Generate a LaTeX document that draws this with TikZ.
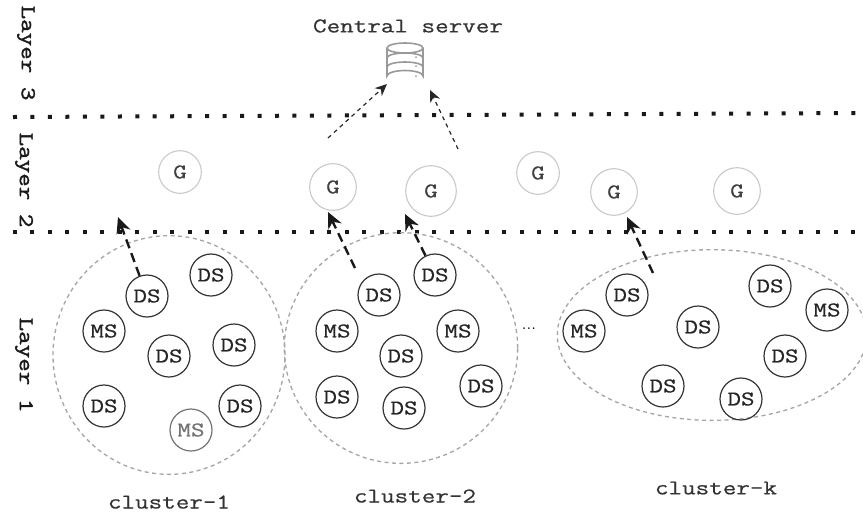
\documentclass[tikz,border=0pt]{standalone}
\usepackage{fontspec}
\setmonofont[FakeStretch=1.25,FakeBold=0.5]{Latin Modern Mono}
\newfontfamily\laybold[FakeStretch=1.25,FakeBold=1.6]{Latin Modern Mono}
\usepackage{tikz}
\usetikzlibrary{arrows,arrows.meta,positioning,shapes.geometric}
\tikzset{
  lbl/.style={font=\fontsize{15.8}{16}\selectfont\ttfamily,text=black!80,inner sep=0pt},
  lay/.style={font=\fontsize{15.8}{16}\selectfont\laybold,text=black!90,inner sep=0pt,rotate=-90},
  sv/.style={circle,draw=black!80,line width=0.9pt,minimum size=31.5pt,inner sep=0pt,
    font=\fontsize{15.8}{16}\selectfont\ttfamily,text=black!85},
  gw/.style={circle,draw=black!22,line width=0.8pt,inner sep=0pt,
    font=\fontsize{15.8}{16}\selectfont\ttfamily,text=black!75},
  cl/.style={ellipse,draw=black!35,dash pattern=on 3pt off 2.6pt,line width=1pt,inner sep=0pt},
  sep/.style={line width=3pt,black!90,dash pattern=on 3pt off 10.1pt},
  up/.style={-{Stealth[length=12pt,width=11pt]},dash pattern=on 7pt off 4pt,line width=1.8pt,black!90},
  upthin/.style={-{Stealth[length=9pt,width=8pt]},dashed,line width=0.9pt,black!85},
  dbline/.style={black!40,line width=1.2pt},
}
\begin{document}
\begin{tikzpicture}[x=0.75pt,y=-0.75pt]
        \useasboundingbox (0,0) rectangle (863,512);
        \node (CS) at (408,26) [lbl] {Central server};
        \node (L3) at (26,53) [lay] {Layer 3};
        \node (L2) at (24,180) [lay] {Layer 2};
        \node (L1) at (24,365) [lay] {Layer 1};
        \coordinate (T0) at (13,117);
        \coordinate (T1) at (856,113);
        \coordinate (M0) at (13,232);
        \coordinate (M1) at (856,232);
        \draw [sep] (T0) -- (T1);
        \draw [sep] (M0) -- (M1);

        % clusters
        \node (C1) at (169,355) [cl,minimum width=174pt,minimum height=179pt] {};
        \node (C2) at (401,348) [cl,minimum width=175pt,minimum height=173pt] {};
        \node (Ck) at (712,335) [cl,minimum width=232pt,minimum height=128pt] {};
        \node (N1) at (169,502) [lbl] {cluster-1};
        \node (N2) at (415,496) [lbl] {cluster-2};
        \node (Nk) at (716,488) [lbl] {cluster-k};
        \node (D) at (529,329) [font=\fontsize{13}{13}\selectfont] {...};

        % gateways
        \node (G1) at (180,172) [gw,minimum size=32pt] {G};
        \node (G2) at (333,187) [gw,minimum size=35pt] {G};
        \node (G3) at (431,191) [gw,minimum size=38pt] {G};
        \node (G4) at (538,173) [gw,minimum size=32pt] {G};
        \node (G5) at (614,192) [gw,minimum size=35pt] {G};
        \node (G6) at (737,191) [gw,minimum size=35pt] {G};

        % first cluster
        \node (A1) at (147,296) [sv] {DS};
        \node (A2) at (211,275) [sv] {DS};
        \node (A3) at (104,331) [sv] {MS};
        \node (A4) at (169,356) [sv] {DS};
        \node (A5) at (234,345) [sv] {DS};
        \node (A6) at (104,406) [sv] {DS};
        \node (A7) at (191,430) [sv,draw=black!55,text=black!55] {MS};
        \node (A8) at (240,406) [sv] {DS};

        % second cluster
        \node (B1) at (379,295) [sv] {DS};
        \node (B2) at (435,275) [sv] {DS};
        \node (B3) at (337,331) [sv] {MS};
        \node (B4) at (458,331) [sv] {MS};
        \node (B5) at (401,356) [sv] {DS};
        \node (B6) at (337,397) [sv] {DS};
        \node (B7) at (404,408) [sv] {DS};
        \node (B8) at (481,386) [sv] {DS};

        % last cluster
        \node (E1) at (584,331) [sv] {MS};
        \node (E2) at (627,295) [sv] {DS};
        \node (E3) at (698,327) [sv] {DS};
        \node (E4) at (770,286) [sv] {DS};
        \node (E5) at (827,310) [sv] {MS};
        \node (E6) at (785,356) [sv] {DS};
        \node (E7) at (663,386) [sv] {DS};
        \node (E8) at (741,399) [sv] {DS};

        % database
        \node (DB) at (405,63) [minimum width=27pt,minimum height=29pt,inner sep=0pt] {};
        \draw [dbline] (387,48) -- (387,76) arc (180:360:18 and 5.5) -- (423,48);
        \draw [dbline] (405,48) ellipse (18 and 5);
        \draw [dbline] (387,58) arc (180:360:18 and 5);
        \draw [dbline] (387,67) arc (180:360:18 and 5);
        \fill [black!40] (416,57) circle (1) (416,66) circle (1) (416,76) circle (1);

        % uplinks
        \coordinate (P1) at (118,217);
        \coordinate (P2) at (328,212);
        \coordinate (P3) at (405,214);
        \coordinate (P4) at (627,217);
        \coordinate (Q2) at (355,268);
        \coordinate (Q4) at (653,273);
        \coordinate (R1) at (328,138);
        \coordinate (R2) at (387,84);
        \coordinate (S1) at (458,149);
        \coordinate (S2) at (430,90);
        \draw [up] (A1) -- (P1);
        \draw [up] (Q2) -- (P2);
        \draw [up] (B2) -- (P3);
        \draw [up] (Q4) -- (P4);
        \draw [upthin] (R1) -- (R2);
        \draw [upthin] (S1) -- (S2);
      \end{tikzpicture}
\end{document}
